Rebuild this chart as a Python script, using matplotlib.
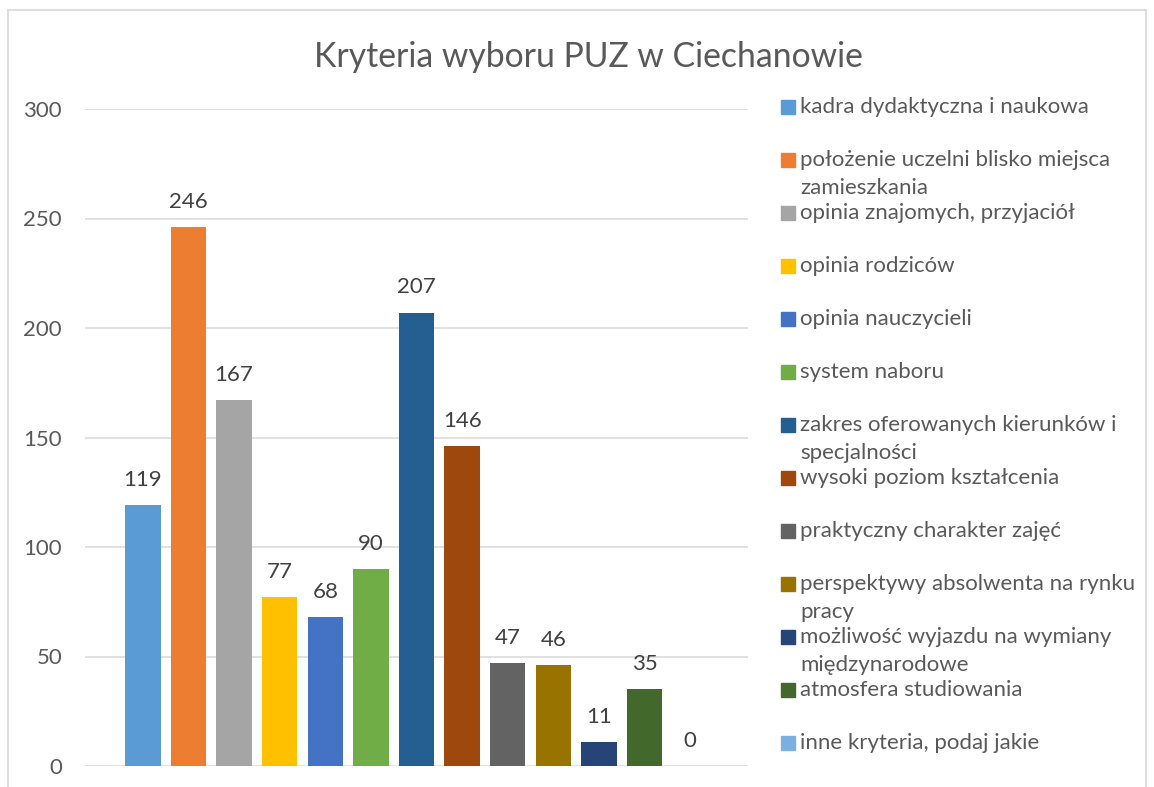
import matplotlib.pyplot as plt
from matplotlib.patches import Rectangle
from matplotlib.lines import Line2D

plt.rcParams['font.family'] = ['Lato', 'DejaVu Sans']

# Data
categories = [
    'kadra dydaktyczna i naukowa',
    'położenie uczelni blisko miejsca\nzamieszkania',
    'opinia znajomych, przyjaciół',
    'opinia rodziców',
    'opinia nauczycieli',
    'system naboru',
    'zakres oferowanych kierunków i\nspecjalności',
    'wysoki poziom kształcenia',
    'praktyczny charakter zajęć',
    'perspektywy absolwenta na rynku\npracy',
    'możliwość wyjazdu na wymiany\nmiędzynarodowe',
    'atmosfera studiowania',
    'inne kryteria, podaj jakie',
]
values = [119, 246, 167, 77, 68, 90, 207, 146, 47, 46, 11, 35, 0]
colors = ['#5B9BD5', '#ED7D31', '#A5A5A5', '#FFC000', '#4472C4', '#70AD47',
          '#255E91', '#9E480E', '#636363', '#997300', '#264478', '#43682B',
          '#7CAFDD']
yticks = [0, 50, 100, 150, 200, 250, 300]

TXT = '#595959'
W, H = 1154, 787
FS = 16

fig = plt.figure(figsize=(W / 100, H / 100), dpi=100)

# chart border (bottom is cut off in the original)
for xs, ys in [([8, 8], [787, 10]), ([8, 1146], [10, 10]), ([1146, 1146], [10, 787])]:
    fig.add_artist(Line2D([x / W for x in xs], [1 - y / H for y in ys],
                          color='#D9D9D9', lw=1.2, transform=fig.transFigure))

ax = fig.add_axes([85 / W, 1 - 766 / H, (748 - 85) / W, (766 - 109) / H])

x = list(range(len(values)))
bars = ax.bar(x, values, width=0.78, color=colors, zorder=3)
for xi, v in zip(x, values):
    ax.annotate(str(v), (xi, v), xytext=(0, 11), textcoords='offset points',
                ha='center', va='bottom', fontsize=FS, color='#404040')

ax.set_ylim(0, 300)
ax.set_xlim(-1.27, 13.27)
ax.set_yticks(yticks)
ax.set_xticks([])
ax.grid(axis='y', color='#D9D9D9', lw=1.1, zorder=0)
for s in ax.spines.values():
    s.set_visible(False)
ax.tick_params(axis='y', length=0, pad=16.5, labelsize=FS, labelcolor=TXT)

fig.text(588 / W, 1 - 67 / H, 'Kryteria wyboru PUZ w Ciechanowie',
         ha='center', va='baseline', fontsize=24.3, color=TXT)

# legend, Excel style: fixed row pitch, wrapped lines run into the gap
for i, (lab, c) in enumerate(zip(categories, colors)):
    yc = 107 + 53.0 * i
    fig.add_artist(Rectangle((781 / W, 1 - (yc + 7) / H), 14 / W, 14 / H,
                             color=c, transform=fig.transFigure))
    for j, line in enumerate(lab.split('\n')):
        fig.text(800 / W, 1 - (yc + 6 + 28 * j) / H, line, ha='left',
                 va='baseline', fontsize=FS, color=TXT)

fig.savefig('out.png', dpi=100)
